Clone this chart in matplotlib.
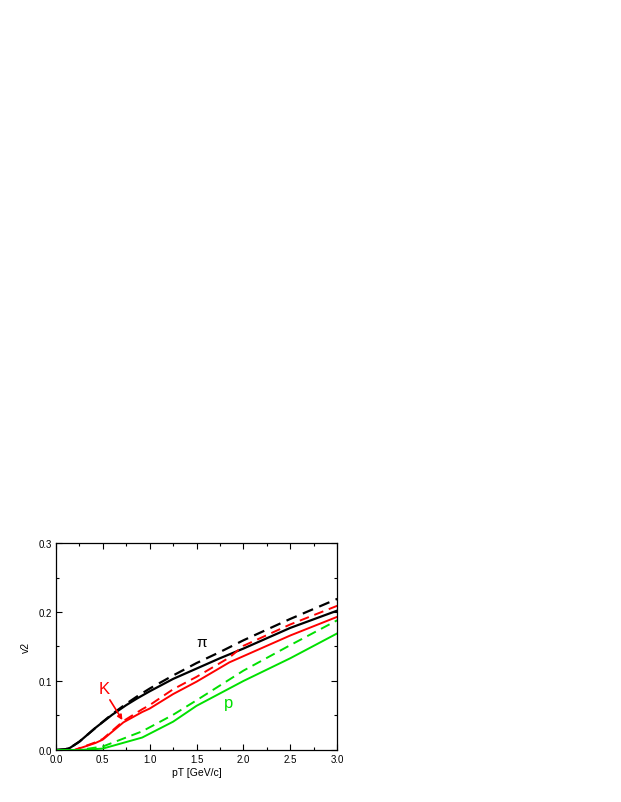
import matplotlib
matplotlib.use("Agg")
import matplotlib.pyplot as plt
from matplotlib.ticker import MultipleLocator, FormatStrFormatter

plt.rcParams['font.family'] = ['Liberation Sans', 'DejaVu Sans']

pt = [0.0, 0.1, 0.15, 0.25, 0.43, 0.6, 0.75, 0.87, 1.0, 1.25, 1.5, 1.75, 2.0, 2.5, 3.0]
pi_solid = [0.0, 0.001, 0.003, 0.012, 0.033, 0.051, 0.065, 0.075, 0.085, 0.103, 0.118, 0.133, 0.147, 0.177, 0.202]
pi_dash = [0.0, 0.001, 0.003, 0.012, 0.033, 0.052, 0.067, 0.078, 0.089, 0.108, 0.126, 0.142, 0.159, 0.190, 0.219]

pt_k = [0.0, 0.2, 0.42, 0.5, 0.72, 0.92, 1.0, 1.25, 1.5, 1.85, 2.0, 2.5, 3.0]
k_solid = [0.0, 0.0, 0.010, 0.015, 0.040, 0.055, 0.060, 0.081, 0.099, 0.127, 0.136, 0.166, 0.193]
k_dash = [0.0, 0.0, 0.011, 0.016, 0.042, 0.059, 0.065, 0.088, 0.106, 0.134, 0.151, 0.182, 0.209]

pt_p = [0.0, 0.25, 0.5, 0.92, 1.25, 1.5, 2.0, 2.5, 3.0]
p_solid = [0.0, 0.0, 0.002, 0.018, 0.041, 0.064, 0.100, 0.133, 0.169]
p_dash = [0.0, 0.0, 0.005, 0.027, 0.051, 0.072, 0.115, 0.152, 0.188]

fig = plt.figure(figsize=(6.21, 8.03), dpi=100)
ax = fig.add_axes([0.090, 0.0648, 0.453, 0.2577])

dash = (0, (5, 3))
ax.plot(pt, pi_dash, color="black", lw=1.6, ls=dash)
ax.plot(pt, pi_solid, color="black", lw=1.6)
ax.plot(pt_k, k_dash, color="#ff0000", lw=1.4, ls=dash)
ax.plot(pt_k, k_solid, color="#ff0000", lw=1.4)
ax.plot(pt_p, p_dash, color="#00e000", lw=1.4, ls=dash)
ax.plot(pt_p, p_solid, color="#00e000", lw=1.4)

ax.text(1.555, 0.157, "π", color="black", fontsize=11, ha="center", va="center")
ax.text(0.515, 0.089, "K", color="#ff0000", fontsize=12, ha="center", va="center")
ax.text(1.84, 0.069, "p", color="#00e000", fontsize=12, ha="center", va="center")
ax.annotate("", xy=(0.725, 0.040), xytext=(0.56, 0.076),
            arrowprops=dict(arrowstyle="-|>", color="#ff0000", lw=1.2, mutation_scale=7))

ax.set_xlim(0, 3.0)
ax.set_ylim(0, 0.3)
ax.xaxis.set_major_locator(MultipleLocator(0.5))
ax.xaxis.set_minor_locator(MultipleLocator(0.25))
ax.yaxis.set_major_locator(MultipleLocator(0.1))
ax.yaxis.set_minor_locator(MultipleLocator(0.05))
ax.xaxis.set_major_formatter(FormatStrFormatter("%.1f"))
ax.yaxis.set_major_formatter(FormatStrFormatter("%.1f"))
ax.tick_params(which="both", direction="in", top=True, right=True, labelsize=7, width=0.8, pad=3)
ax.tick_params(which="major", length=4)
ax.tick_params(which="minor", length=2)
for s in ax.spines.values():
    s.set_linewidth(0.9)
ax.set_xlabel("pT [GeV/c]", fontsize=7.5, labelpad=2)
ax.set_ylabel("v2", fontsize=7.5, labelpad=5)

fig.savefig("out.png", dpi=100)
